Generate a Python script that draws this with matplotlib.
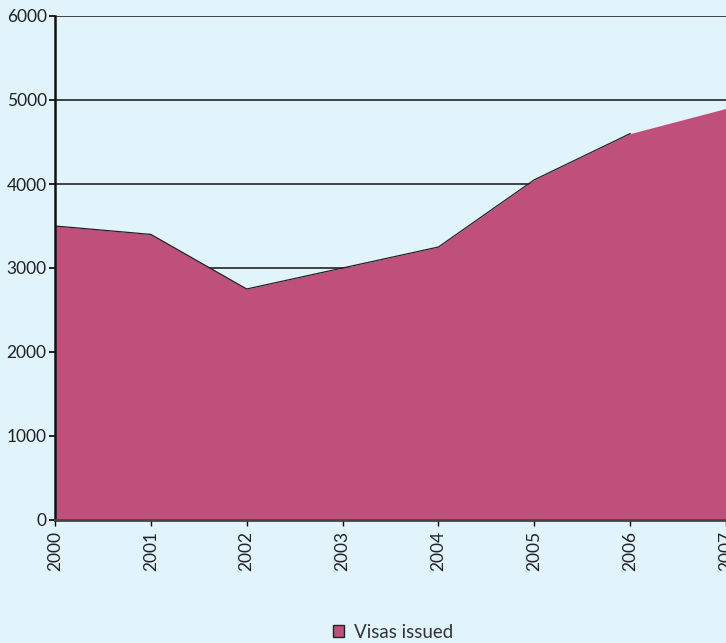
import matplotlib
matplotlib.use("Agg")
import matplotlib.pyplot as plt
from matplotlib.patches import Patch

years = [2000, 2001, 2002, 2003, 2004, 2005, 2006, 2007]
visas = [3500, 3400, 2750, 3000, 3250, 4050, 4600, 4900]
yticks = [0, 1000, 2000, 3000, 4000, 5000, 6000]

bg = "#e1f4fb"
fill_col = "#bf507c"

plt.rcParams['font.family'] = ['Lato', 'DejaVu Sans']

fig = plt.figure(figsize=(7.26, 6.43), dpi=100, facecolor=bg)
ax = fig.add_axes([55 / 726, 123 / 643, 671 / 726, 504 / 643])
ax.set_facecolor(bg)

# horizontal gridlines behind the area
for v in yticks[1:]:
    ax.axhline(v, color="#333333", lw=1.3, zorder=1)

ax.fill_between(years, visas, 0, color=fill_col, lw=0, zorder=2)
ax.plot(years[:7], visas[:7], color="#222222", lw=0.9, zorder=3)

ax.set_xlim(2000, 2007)
ax.set_ylim(0, 6000)
ax.set_xticks(years)
ax.set_xticklabels([str(y) for y in years], rotation=90, fontsize=12.5, color="#222222")
ax.set_yticks(yticks)
ax.set_yticklabels([str(v) for v in yticks], fontsize=12.5, color="#222222")
ax.tick_params(axis="y", length=4, width=1.2, pad=2)
ax.tick_params(axis="x", length=4, width=1, pad=4)

for s in ["top", "right"]:
    ax.spines[s].set_visible(False)
ax.spines["left"].set_linewidth(1.8)
ax.spines["left"].set_color("#111111")
ax.spines["left"].set_zorder(4)
ax.spines["bottom"].set_linewidth(2)
ax.spines["bottom"].set_color("#444444")
ax.spines["bottom"].set_zorder(4)

handle = Patch(facecolor=fill_col, edgecolor="#222222", linewidth=1)
fig.legend([handle], ["Visas issued"], loc="center", bbox_to_anchor=(393 / 726, 11 / 643),
           frameon=False, fontsize=13.5, handlelength=0.6, handleheight=0.6,
           handletextpad=0.5, labelcolor="#333333")

fig.savefig("out.png", dpi=100, facecolor=bg)
